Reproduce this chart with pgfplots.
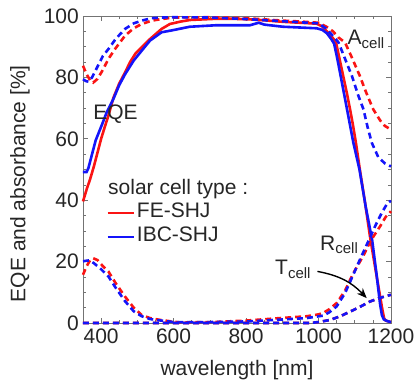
\documentclass[border=0pt]{standalone}
\usepackage{pgfplots}
\pgfplotsset{compat=1.18}
\usepackage{fontspec}
\setmainfont{Liberation Sans}
\usetikzlibrary{arrows.meta}
\definecolor{fr}{RGB}{250,20,20}
\definecolor{fb}{RGB}{20,20,250}
\newcommand{\sub}[1]{\raisebox{-0.3ex}{\fontsize{15}{15}\selectfont #1}}
\begin{document}
\fontsize{21}{25}\selectfont
\begin{tikzpicture}
\useasboundingbox (-83pt,-60pt) rectangle (332pt,323pt);
\begin{axis}[
  scale only axis, width=308pt, height=307pt,
  xmin=350, xmax=1200, ymin=0, ymax=100,
  xtick={400,600,...,1200}, ytick={0,20,...,100},
  minor x tick num=3, minor y tick num=3,
  tick align=inside,
  major tick length=5pt, minor tick length=3pt,
  axis line style={black!55, line width=0.8pt},
  every tick/.style={black!55, line width=0.6pt},
  font=\fontsize{21}{25}\selectfont,
  ticklabel style={font=\fontsize{21}{25}\selectfont, black!85},
  /pgf/number format/assume math mode=true,
  /pgf/number format/1000 sep={},
  xlabel={wavelength [nm]},
  ylabel={EQE and absorbance [\%]},
  xlabel style={at={(rel axis cs:0.5,-0.153)}, anchor=center, black!85},
  ylabel style={at={(rel axis cs:-0.2045,0.454)}, anchor=center, black!85},
  yticklabel style={xshift=3pt},
  xticklabel style={yshift=1pt},
  clip=false,
  legend image code/.code={\draw[#1] (0pt,0pt) -- (26pt,0pt);},
  legend style={at={(axis cs:414,39.5)}, anchor=north west, draw=none, fill=none,
    inner sep=0pt, font=\fontsize{21}{25}\selectfont, text=black!85,
    row sep=2pt, nodes={inner sep=2pt, text height=14pt, text depth=4pt}},
  legend cell align=left,
  every axis plot/.append style={line width=2.6pt},
  dsh/.style={dash pattern=on 6pt off 4pt},
]
% EQE solid
\addplot[fr] coordinates {(350,39.6)(360,43.5)(370,47)(380,51)(390,55.5)(400,60)(411,64.2)(420,67.5)(434,73.4)(450,78)(466,81.6)(480,85)(495,87.8)(512,89.8)(535,92.5)(567,95.8)(590,97.4)(620,98.2)(645,98.7)(700,99.0)(719,99.1)(760,99.1)(811,98.9)(850,98.6)(902,98.1)(950,97.8)(995,97.5)(1010,96.6)(1023,95)(1035,93.5)(1048,91.5)(1058,86)(1068,80.5)(1078,75)(1087,69.6)(1095,64.5)(1103,58.8)(1114,50)(1128,39.5)(1142,28.2)(1155,19)(1168,10)(1176,4.5)(1181,1.5)(1185,0.8)(1200,0.3)};
\addlegendentry{FE-SHJ}
\addplot[fb] coordinates {(350,49.2)(360,49.2)(365,50.5)(375,55)(385,59.5)(401,64.2)(415,68.5)(434,73)(450,77.5)(466,81)(490,85.5)(512,88.7)(535,92)(567,94.7)(590,95.2)(645,96.5)(719,97.0)(811,97.0)(835,97.8)(850,97.2)(902,96.5)(995,96.0)(1010,95.5)(1023,94.4)(1035,92.5)(1043,91)(1052,86)(1061,80.5)(1078,70)(1096,58.8)(1113,50)(1130,38)(1148,27)(1160,16)(1170,6)(1175,2.5)(1180,1.2)(1190,0.6)(1200,0.3)};
\addlegendentry{IBC-SHJ}
% A cell dashed
\addplot[fr, dsh] coordinates {(350,83.8)(360,81)(370,79)(378,78.3)(390,79.5)(405,82.5)(420,86)(440,89.5)(466,93.6)(490,96)(512,97.4)(540,98.5)(567,99)(600,99.5)(700,99.6)(800,99.3)(900,98.5)(950,98.2)(1000,97.8)(1022,96.5)(1040,95)(1055,93)(1073,91.4)(1090,87)(1114,80.5)(1130,75.5)(1151,69.6)(1170,66)(1183,64.2)(1200,63)};
\addplot[fb, dsh] coordinates {(350,79.4)(358,78.8)(365,78.6)(375,80)(390,83.5)(405,87)(420,89.2)(440,92.5)(466,95.8)(490,97.6)(512,98.5)(540,99.3)(567,99.5)(600,99.6)(700,99.5)(800,99.0)(900,98.3)(1000,97.6)(1020,96)(1040,93.5)(1055,91.4)(1070,87)(1092,80.5)(1110,74)(1124,69.6)(1135,64)(1147,58.7)(1165,54)(1183,52)(1200,51)};
% R cell dashed
\addplot[fr, dsh] coordinates {(350,15.7)(360,18.5)(370,20.5)(378,21.1)(390,20.5)(405,18.5)(420,16.8)(440,13)(466,8.6)(490,5)(512,2.6)(535,1.6)(558,1.1)(600,0.4)(618,0.2)(709,0.3)(802,0.8)(894,1.6)(967,2.2)(1000,2.8)(1013,3.3)(1030,4.5)(1050,6.5)(1073,10.5)(1095,16)(1124,22)(1145,27)(1170,31.5)(1185,34.5)(1200,36.4)};
\addplot[fb, dsh] coordinates {(350,20.1)(360,20.3)(368,20.4)(380,19.5)(400,17.5)(420,15.2)(440,11.5)(466,7.1)(490,3.8)(512,2.2)(535,1.3)(558,0.9)(600,0.3)(700,0.3)(802,0.5)(894,1.1)(967,1.6)(1013,2.4)(1030,3.5)(1050,5.4)(1073,9.7)(1095,15.5)(1114,20.6)(1135,26)(1156,31.5)(1175,36)(1190,39)(1197,39.6)(1200,39.4)};
% T cell dashed
\addplot[fr, dsh] coordinates {(350,0)(976,0)(1000,0.3)(1032,1)(1060,2.2)(1087,3.7)(1115,5.3)(1142,7)(1170,8.2)(1200,9.2)};
\addplot[fb, dsh] coordinates {(350,0)(976,0)(1000,0.3)(1032,1)(1060,2.2)(1087,3.7)(1115,5.3)(1142,7)(1170,8.2)(1200,9.2)};
% labels
\node[anchor=base west, inner sep=0pt, text=black!85] at (axis cs:378,66.3) {EQE};
\node[anchor=base west, inner sep=0pt, text=black!85] at (axis cs:1080,90.6) {A\sub{cell}};
\node[anchor=base west, inner sep=0pt, text=black!85] at (axis cs:1004,23.6) {R\sub{cell}};
\node[anchor=base west, inner sep=0pt, text=black!85] at (axis cs:880,15.7) {T\sub{cell}};
\node[anchor=base west, inner sep=0pt, text=black!85] at (axis cs:419,41.8) {solar cell type :};
\draw[black, line width=1.4pt, -{Stealth[length=10pt,width=8pt]}] (axis cs:997,16.8) to[bend left=18] (axis cs:1133,8.1);
\end{axis}
\end{tikzpicture}
\end{document}
